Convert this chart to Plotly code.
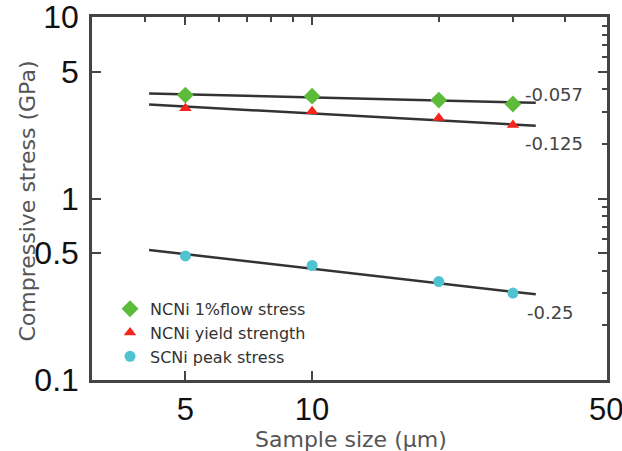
import math
import plotly.graph_objects as go

# ---- data ----
sizes = [5, 10, 20, 30]  # sample size (um)
flow_stress = [3.72, 3.67, 3.49, 3.32]      # NCNi 1% flow stress (GPa)
yield_strength = [3.15, 3.03, 2.78, 2.54]   # NCNi yield strength (GPa)
peak_stress = [0.482, 0.427, 0.348, 0.301]  # SCNi peak stress (GPa)

fit_x = [4.1, 34]
fit_flow = [3.80, 3.37]
fit_yield = [3.30, 2.52]
fit_peak = [0.520, 0.296]

slope_labels = ["-0.057", "-0.125", "-0.25"]
slope_label_x = [37.5, 37.5, 36.8]
slope_label_y = [3.75, 2.0, 0.235]

x_range = [3, 50.2]
y_range = [0.0997, 10.03]
x_major = [5, 10, 50]
x_top_minor = [4, 6, 7, 8, 9, 20, 30, 40]
y_major = [0.1, 0.5, 1, 5, 10]
y_right_major = [0.5, 1, 5]
y_right_minor = [0.2, 0.3, 0.4, 0.6, 0.7, 0.8, 0.9, 2, 3, 4, 6, 7, 8, 9]

FONT = "DejaVu Sans"
TICK_FONT = "Liberation Sans"
LINE_COL = "#333333"
AX_COL = "#444444"

fig = go.Figure()

for fy in [fit_flow, fit_yield, fit_peak]:
    fig.add_trace(go.Scatter(x=fit_x, y=fy, mode="lines",
                             line=dict(color=LINE_COL, width=2.5),
                             showlegend=False, hoverinfo="skip"))

fig.add_trace(go.Scatter(x=sizes, y=flow_stress, mode="markers",
                         name="NCNi 1%flow stress",
                         marker=dict(symbol="diamond", size=13, color="#5DBB3A")))
fig.add_trace(go.Scatter(x=sizes, y=yield_strength, mode="markers",
                         name="NCNi yield strength",
                         marker=dict(symbol="triangle-up", size=11, color="#F5261B")))
fig.add_trace(go.Scatter(x=sizes, y=peak_stress, mode="markers",
                         name="SCNi peak stress",
                         marker=dict(symbol="circle", size=11, color="#4FC3D0")))

# empty trace to create the overlaid top/right axes
fig.add_trace(go.Scatter(x=[], y=[], xaxis="x2", yaxis="y2", showlegend=False))

for t, xx, yy in zip(slope_labels, slope_label_x, slope_label_y):
    fig.add_annotation(x=math.log10(xx), y=math.log10(yy), text=t, showarrow=False,
                       xanchor="center", yanchor="middle",
                       font=dict(family=FONT, size=18, color="#444444"))

fig.add_annotation(xref="paper", yref="paper", x=-0.126, y=0.492,
                   text="Compressive stress (GPa)", textangle=-90, showarrow=False,
                   xanchor="center", yanchor="middle",
                   font=dict(family=FONT, size=22, color="#555555"))

fig.add_annotation(xref="paper", yref="paper", x=0.503, y=-0.163,
                   text="Sample size (\u03bcm)", showarrow=False,
                   xanchor="center", yanchor="middle",
                   font=dict(family=FONT, size=22, color="#555555"))

lx = [math.log10(v) for v in x_range]
ly = [math.log10(v) for v in y_range]

fig.update_layout(
    width=622, height=451,
    margin=dict(l=92, r=15, t=17, b=71),
    paper_bgcolor="white", plot_bgcolor="white",
    showlegend=True,
    legend=dict(x=0.035, y=0.243, xanchor="left", yanchor="top",
                bgcolor="rgba(0,0,0,0)", tracegroupgap=0,
                font=dict(family=FONT, size=16, color="#333333")),
    xaxis=dict(type="log", range=lx, tickvals=x_major, ticktext=[str(v) for v in x_major],
               ticks="inside", ticklen=9, tickwidth=2, tickcolor=AX_COL,
               showline=True, linecolor=AX_COL, linewidth=2.5, showgrid=False,
               zeroline=False, automargin=False, ticklabelstandoff=0,
               ticklabeloverflow="allow",
               tickfont=dict(family=TICK_FONT, size=31, color="#111111")),
    yaxis=dict(type="log", range=ly, tickvals=y_major, ticktext=[str(v) for v in y_major],
               ticks="inside", ticklen=9, tickwidth=2, tickcolor=AX_COL,
               showline=True, linecolor=AX_COL, linewidth=2.5, showgrid=False,
               zeroline=False, automargin=False, ticklabelstandoff=4,
               ticklabeloverflow="allow",
               tickfont=dict(family=TICK_FONT, size=32, color="#111111")),
    xaxis2=dict(type="log", range=lx, overlaying="x", side="top",
                tickvals=[5, 10], showticklabels=False,
                ticks="inside", ticklen=8, tickwidth=2, tickcolor=AX_COL,
                minor=dict(tickvals=x_top_minor, ticks="inside", ticklen=5,
                           tickwidth=2, tickcolor=AX_COL),
                showline=True, linecolor=AX_COL, linewidth=2.5, showgrid=False,
                zeroline=False, automargin=False),
    yaxis2=dict(type="log", range=ly, overlaying="y", side="right",
                tickvals=y_right_major, showticklabels=False,
                ticks="inside", ticklen=9, tickwidth=2, tickcolor=AX_COL,
                minor=dict(tickvals=y_right_minor, ticks="inside", ticklen=5,
                           tickwidth=2, tickcolor=AX_COL),
                showline=True, linecolor=AX_COL, linewidth=2.5, showgrid=False,
                zeroline=False, automargin=False),
)

fig.write_html("out.html")
